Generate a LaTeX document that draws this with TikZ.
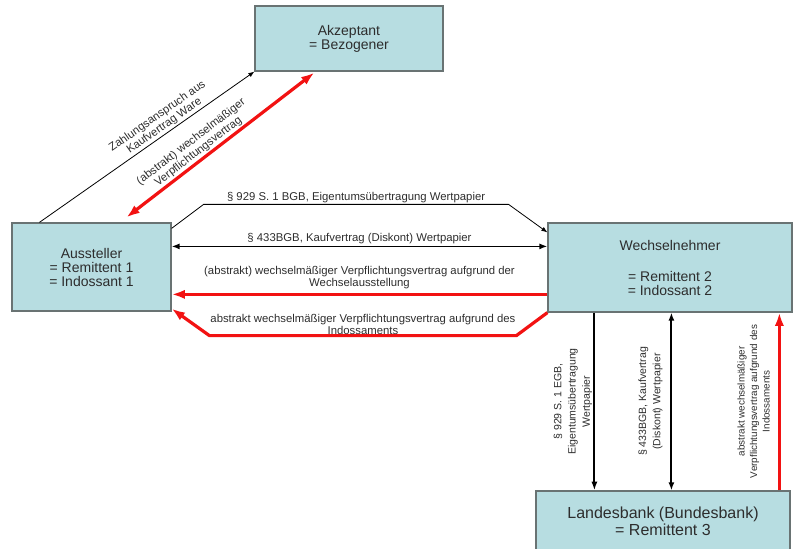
\documentclass[tikz,border=0pt]{standalone}
\usepackage{fontspec}
\setmainfont{Liberation Sans}
\usetikzlibrary{arrows.meta}

\definecolor{boxfill}{RGB}{183,221,225}
\definecolor{boxline}{RGB}{105,115,115}
\definecolor{textgray}{RGB}{45,45,45}
\definecolor{billred}{RGB}{242,18,18}

\tikzstyle{party} = [draw=boxline,line width=0.9pt,fill=boxfill,align=center,text=textgray,inner sep=0pt,font=\fontsize{10.5}{10.5}\selectfont]
\tikzstyle{claim edge} = [draw,line width=0.6pt,-{Latex[length=4.5pt,width=3.5pt]}]
\tikzstyle{down edge} = [draw,line width=1.4pt,-{Latex[length=6.5pt,width=4.5pt]}]
\tikzstyle{both edge} = [draw,line width=1.1pt,{Latex[length=6pt,width=4.5pt]}-{Latex[length=6pt,width=4.5pt]}]
\tikzstyle{bill edge} = [draw,line width=2.4pt,billred,-{Latex[length=10pt,width=7pt]}]
\tikzstyle{bill both} = [draw,line width=2.4pt,billred,{Latex[length=10pt,width=7pt]}-{Latex[length=10pt,width=7pt]}]
\tikzstyle{clause} = [font=\fontsize{8.5}{9}\selectfont,text=textgray,align=center,inner sep=1pt]
\tikzstyle{side clause} = [font=\fontsize{7.9}{10.7}\selectfont,text=textgray,align=center,inner sep=1pt]

\begin{document}
\begin{tikzpicture}[x=0.75pt,y=-0.75pt]
     \useasboundingbox (0,0) rectangle (793,549);
     % First we draw the parties
     \node[party,minimum width=141pt,minimum height=48.75pt] (akz) at (349,38.5) {Akzeptant\\= Bezogener};
     \node[party,minimum width=119.25pt,minimum height=66pt] (aus) at (91.5,267) {Aussteller\\= Remittent 1\\= Indossant 1};
     \node[party,minimum width=183pt,minimum height=66.75pt] (wech) at (670,267.5) {Wechselnehmer\\[12.75pt]= Remittent 2\\= Indossant 2};
     \node[party,minimum width=190.5pt,minimum height=45.75pt,font=\fontsize{12}{13}\selectfont] (lb) at (663,521.5) {Landesbank (Bundesbank)\\= Remittent 3};

     % Aussteller -- Akzeptant
     \path[claim edge] ([xshift=21pt]aus.north west) -- node[clause,sloped,above,pos=0.6] {Zahlungsanspruch aus\\Kaufvertrag Ware} (akz.south west);
     \path[bill both] ([xshift=86.25pt,yshift=3.75pt]aus.north west) -- node[clause,sloped,above,pos=0.41] {(abstrakt) wechselmäßiger\\Verpflichtungsvertrag} ([xshift=45pt,yshift=-0.75pt]akz.south west);

     % Aussteller -- Wechselnehmer
     \path[claim edge] ([yshift=-4.5pt]aus.north east) -- ++(32,-24) -- node[clause,above] {§ 929 S. 1 BGB, Eigentumsübertragung Wertpapier} ++(305,0) -- ([yshift=-7.5pt]wech.north west);
     \path[both edge] ([yshift=-18pt]aus.north east) -- node[clause,above] {§ 433BGB, Kaufvertrag (Diskont) Wertpapier} ([yshift=-18pt]wech.north west);
     \path[bill edge] ([yshift=-54pt]wech.north west) -- node[clause,above=2pt] {(abstrakt) wechselmäßiger Verpflichtungsvertrag aufgrund der\\Wechselausstellung} ([yshift=-54pt]aus.north east);
     \path[bill edge] (wech.south west) -- ++(-31,23) -- node[clause,above,yshift=-1.5pt] {abstrakt wechselmäßiger Verpflichtungsvertrag aufgrund des\\Indossaments} ++(-307,0) -- ([yshift=2.25pt]aus.south east);

     % Wechselnehmer -- Landesbank
     \foreach \name/\dx in {v1/35.25pt, v2/93pt, v3/174pt}
     \coordinate (\name) at ([xshift=\dx]wech.south west);

     \path[down edge] (v1) -- node[side clause,rotate=90,anchor=south] {§ 929 S. 1 EGB,\\Eigentumsübertragung\\Wertpapier} (v1 |- lb.north);
     \path[both edge,line width=1.4pt] (v2) -- node[side clause,xshift=-5pt,rotate=90,anchor=south] {§ 433BGB, Kaufvertrag\\(Diskont) Wertpapier} (v2 |- lb.north);
     \path[bill edge] (v3 |- lb.north) -- node[side clause,font=\fontsize{7.4}{9.4}\selectfont,xshift=-5pt,rotate=90,anchor=south] {abstrakt wechselmäßiger\\Verpflichtungsvertrag aufgrund des\\Indossaments} (v3);
\end{tikzpicture}
\end{document}
